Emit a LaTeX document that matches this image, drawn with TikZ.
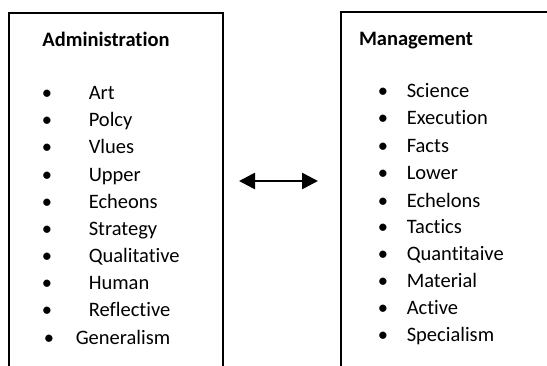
\documentclass[tikz,border=0pt]{standalone}
\usepackage{fontspec}
\setmainfont[Ligatures=CommonOff]{Carlito}
\usetikzlibrary{arrows.meta, positioning}

\tikzset{
  item/.style={anchor=base west, inner sep=0pt},
  heading/.style={anchor=base, inner sep=0pt, font=\fontsize{20.5}{24}\selectfont\bfseries},
}

\begin{document}
\begin{tikzpicture}[>={Triangle[length=16pt, width=16pt]}, x=1pt, y=-1pt,
    font=\fontsize{20.5}{24}\selectfont, line width=1.6pt]
    \useasboundingbox (0,0) rectangle (547,366);

    % the two boxes, open at the bottom
    \draw (9,366) -- (9,13) -- (223,13) -- (223,366);
    \draw (341,366) -- (341,12) -- (548,12);

    \node[heading] (admin) at (106,47) {Administration};
    \node[heading] (mgmt) at (416,46) {Management};

    % administration list
    \node[item] (a-art) at (41,100) {\makebox[47pt][l]{\textbullet}Art};
    \node[item] (a-policy) at (41,127) {\makebox[47pt][l]{\textbullet}Polcy};
    \node[item] (a-values) at (41,154) {\makebox[47pt][l]{\textbullet}Vlues};
    \node[item] (a-upper) at (41,182) {\makebox[47pt][l]{\textbullet}Upper};
    \node[item] (a-echelons) at (41,209) {\makebox[47pt][l]{\textbullet}Echeons};
    \node[item] (a-strategy) at (41,236) {\makebox[47pt][l]{\textbullet}Strategy};
    \node[item] (a-quali) at (41,263) {\makebox[47pt][l]{\textbullet}Qualitative};
    \node[item] (a-human) at (41,290) {\makebox[47pt][l]{\textbullet}Human};
    \node[item] (a-reflect) at (41,317) {\makebox[47pt][l]{\textbullet}Reflective};
    \node[item] (a-general) at (43,345) {\makebox[32pt][l]{\textbullet}Generalism};

    % management list
    \node[item] (m-science) at (377,98) {\makebox[29pt][l]{\textbullet}Science};
    \node[item] (m-exec) at (377,125) {\makebox[29pt][l]{\textbullet}Execution};
    \node[item] (m-facts) at (377,153) {\makebox[29pt][l]{\textbullet}Facts};
    \node[item] (m-lower) at (377,180) {\makebox[29pt][l]{\textbullet}Lower};
    \node[item] (m-echelons) at (377,208) {\makebox[29pt][l]{\textbullet}Echelons};
    \node[item] (m-tactics) at (377,234) {\makebox[29pt][l]{\textbullet}Tactics};
    \node[item] (m-quanti) at (377,261) {\makebox[29pt][l]{\textbullet}Quantitaive};
    \node[item] (m-material) at (377,288) {\makebox[29pt][l]{\textbullet}Material};
    \node[item] (m-active) at (377,315) {\makebox[29pt][l]{\textbullet}Active};
    \node[item] (m-special) at (377,342) {\makebox[29pt][l]{\textbullet}Specialism};

    \path (239,181) coordinate (tip-l);
    \path (318,181) coordinate (tip-r);
    \draw[<->, line width=2.6pt] (tip-l) -- (tip-r);
\end{tikzpicture}
\end{document}
